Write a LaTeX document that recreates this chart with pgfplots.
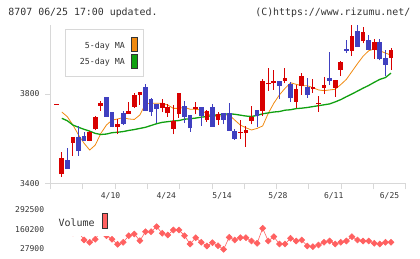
\documentclass[border=0pt]{standalone}
\usepackage{fontspec}
\setmainfont{DejaVu Sans Mono}
\usepackage{pgfplots}
\usepackage{pgfplotstable}
\pgfplotsset{compat=1.18}

\definecolor{upred}{HTML}{D80000}
\definecolor{downblue}{HTML}{4040C0}
\definecolor{maorange}{HTML}{F08A10}
\definecolor{magreen}{HTML}{10A010}
\definecolor{volred}{HTML}{FF6060}
\definecolor{axisgray}{HTML}{D8D8D8}
\definecolor{txt}{HTML}{333333}

% rising sessions (close above open): index, open, high, low, close
\pgfplotstableread{
i o h l c
0 3752 3756 3752 3756
1 3444 3542 3433 3517
3 3584 3609 3524 3609
6 3593 3636 3590 3633
7 3644 3700 3638 3698
8 3748 3770 3725 3762
11 3655 3689 3622 3668
13 3710 3766 3710 3724
14 3744 3806 3737 3794
15 3796 3809 3753 3809
19 3739 3778 3719 3759
20 3714 3757 3699 3741
21 3646 3751 3621 3681
22 3710 3804 3695 3804
25 3735 3763 3710 3742
27 3684 3730 3677 3724
29 3686 3718 3662 3710
33 3628 3684 3600 3632
34 3628 3658 3566 3640
35 3680 3747 3665 3699
37 3726 3865 3704 3858
38 3843 3916 3815 3850
39 3847 3907 3819 3858
41 3859 3916 3847 3871
43 3766 3840 3736 3822
44 3836 3895 3796 3880
46 3824 3865 3806 3833
47 3757 3791 3721 3761
48 3827 3876 3800 3838
50 3827 3862 3788 3862
51 3907 3945 3880 3942
53 3991 4107 3969 4058
55 4034 4099 4025 4074
57 3996 4044 3956 4031
60 3960 4003 3907 3996
}\upcandles

% falling sessions (close below open)
\pgfplotstableread{
i o h l c
2 3507 3560 3467 3467
4 3608 3658 3525 3545
5 3613 3632 3590 3592
9 3787 3787 3699 3699
10 3719 3722 3652 3655
12 3714 3726 3662 3667
16 3831 3843 3724 3724
17 3778 3784 3704 3719
18 3756 3756 3670 3733
23 3745 3769 3670 3699
24 3707 3707 3633 3647
26 3742 3742 3659 3704
28 3742 3754 3655 3655
30 3716 3716 3665 3686
31 3714 3760 3636 3637
32 3636 3644 3596 3600
36 3729 3729 3655 3702
40 3858 3858 3776 3837
42 3843 3853 3766 3781
45 3830 3870 3784 3796
49 3873 3987 3840 3858
52 4000 4040 3984 3991
54 4080 4107 4009 4009
56 4040 4062 3996 3996
58 4031 4044 3950 3954
59 3960 3996 3880 3930
}\downcandles

% moving averages
\pgfplotstableread{
i ma5 ma25
1 3720 3692
2 3699 3681
3 3662 3662
4 3618 3652
5 3581 3643
6 3551 3635
7 3573 3625
8 3625 3620
9 3662 3622
10 3684 3628
11 3689 3630
12 3695 3633
13 3689 3638
14 3687 3642
15 3707 3647
16 3756 3652
17 3759 3660
18 3759 3668
19 3759 3674
20 3751 3677
21 3736 3680
22 3736 3682
23 3741 3688
24 3732 3690
25 3732 3693
26 3729 3697
27 3711 3700
28 3704 3704
29 3699 3708
30 3707 3710
31 3707 3712
32 3684 3710
33 3662 3706
34 3650 3702
35 3640 3700
36 3647 3705
37 3658 3712
38 3714 3716
39 3759 3720
40 3796 3722
41 3825 3728
42 3850 3730
43 3843 3735
44 3837 3737
45 3837 3740
46 3828 3744
47 3818 3748
48 3815 3752
49 3818 3756
50 3821 3765
51 3842 3775
52 3865 3788
53 3900 3800
54 3935 3813
55 3968 3826
56 3992 3838
57 4000 3852
58 3992 3865
59 3982 3873
60 3973 3893
}\mavg

% traded volume
\pgfplotstableread{
i v
0 140000
1 160000
2 150000
3 135000
4 141000
5 87900
6 72500
7 92600
8 150000
9 116500
10 92600
11 59200
12 72500
13 116500
14 127900
15 83200
16 143200
17 143200
18 176500
19 132500
20 121200
21 154500
22 154500
23 116500
24 61200
25 103200
26 72500
27 47900
28 70000
29 49900
30 26000
31 105900
32 87900
33 103200
34 103200
35 81200
36 65900
37 165900
38 81200
39 109900
40 61200
41 61200
42 99200
43 81200
44 87900
45 47900
46 43200
47 54600
48 72500
49 81200
50 61200
51 72500
52 81200
53 109900
54 87900
55 81200
56 81200
57 65900
58 61200
59 72500
60 72500
}\volume

\begin{document}
\begin{tikzpicture}[x=1pt,y=1pt, font=\fontsize{8}{9}\selectfont, every node/.style={text=txt}]
\path[use as bounding box] (0,0) rectangle (420,259);

\pgfplotsset{
  wick/.style={draw=none, no markers, forget plot,
    error bars/.cd, y dir=plus, y explicit, error mark=none,
    error bar style={draw=#1, line width=1pt}},
  body/.style={draw=none, no markers, forget plot,
    error bars/.cd, y dir=plus, y explicit, error mark=none,
    error bar style={draw=#1, line width=4.7pt}},
}

% price pane
\begin{axis}[
  at={(50.7pt,75pt)}, anchor=south west,
  scale only axis, width=355pt, height=159pt,
  xmin=-0.986, xmax=62.634, ymin=3400, ymax=4106.7,
  axis x line*=bottom, axis y line*=left,
  axis line style={-, draw=axisgray, line width=1pt},
  tick style={draw=axisgray, line width=1pt},
  tick align=outside, major tick length=5.5pt,
  ytick={3400,3800}, yticklabels={3400,3800},
  yticklabel style={anchor=east, inner sep=0pt, xshift=-5.6pt},
  xtick={-0.986,4.798,10.581,16.365,22.148,27.932,33.716,39.499,45.283,51.066,56.850,62.634},
  xticklabels={},
  extra x ticks={10,20,30,40,50,60},
  extra x tick labels={4/10,4/24,5/14,5/28,6/11,6/25},
  extra x tick style={major tick length=0pt,
    xticklabel style={anchor=north, inner sep=0pt, yshift=-8.5pt, xshift=-1.5pt}},
  /pgf/number format/assume math mode=true,
]
\addplot[maorange, line width=0.8pt] table[x=i, y=ma5] {\mavg};
\addplot[magreen, line width=1.3pt] table[x=i, y=ma25] {\mavg};

\addplot[wick=upred] table[x=i, y=l, y error plus expr={\thisrow{h}-\thisrow{l}}] {\upcandles};
\addplot[wick=downblue] table[x=i, y=l, y error plus expr={\thisrow{h}-\thisrow{l}}] {\downcandles};
\addplot[body=upred] table[x=i, y=o, y error plus expr={\thisrow{c}-\thisrow{o}}] {\upcandles};
\addplot[body=downblue] table[x=i, y=c, y error plus expr={\thisrow{o}-\thisrow{c}}] {\downcandles};
\end{axis}

% volume pane
\begin{axis}[
  at={(50.7pt,10pt)}, anchor=south west,
  scale only axis, width=355pt, height=39.7pt,
  xmin=-0.986, xmax=62.634, ymin=27900, ymax=292500,
  axis x line=none, axis y line*=left,
  y axis line style={draw=none},
  major tick length=0pt,
  ytick={27900,160200,292500}, yticklabels={27900,160200,292500},
  yticklabel style={anchor=east, inner sep=0pt, xshift=-6.4pt},
  scaled y ticks=false, clip=false,
  /pgf/number format/assume math mode=true,
]
\addplot[volred, line width=0.6pt, mark=square*, mark size=2.1pt,
  mark options={rotate=45, fill=volred, draw=volred}] table[x=i, y=v] {\volume};
\end{axis}

% header
\node[anchor=west, inner sep=0pt, font=\fontsize{9.9}{11}\selectfont] at (8.3,246.5) {8707 06/25 17:00 updated.};
\node[anchor=east, inner sep=0pt, font=\fontsize{9.9}{11}\selectfont] at (410.5,246.5) {(C)https://www.rizumu.net/};

% moving average key
\draw[draw=axisgray, fill=white, line width=1pt] (65,182.3) rectangle (143.3,229);
\node[anchor=east, inner sep=0pt, font=\fontsize{8.3}{9}\selectfont] at (125,213) {5-day MA};
\node[anchor=east, inner sep=0pt, font=\fontsize{8.3}{9}\selectfont] at (125,196.3) {25-day MA};
\filldraw[fill=maorange, draw=txt, line width=0.8pt] (131.5,207.5) rectangle (137.2,221.5);
\filldraw[fill=magreen, draw=txt, line width=0.8pt] (131.5,190.2) rectangle (137.2,204.5);

% volume key
\fill[white] (52,23) rectangle (114,55);
\node[anchor=west, inner sep=0pt, font=\fontsize{10}{11}\selectfont] at (58.3,36.7) {Volume};
\filldraw[fill=volred, draw=txt, line width=0.8pt] (101.9,30.9) rectangle (107.2,45.5);
\end{tikzpicture}
\end{document}
